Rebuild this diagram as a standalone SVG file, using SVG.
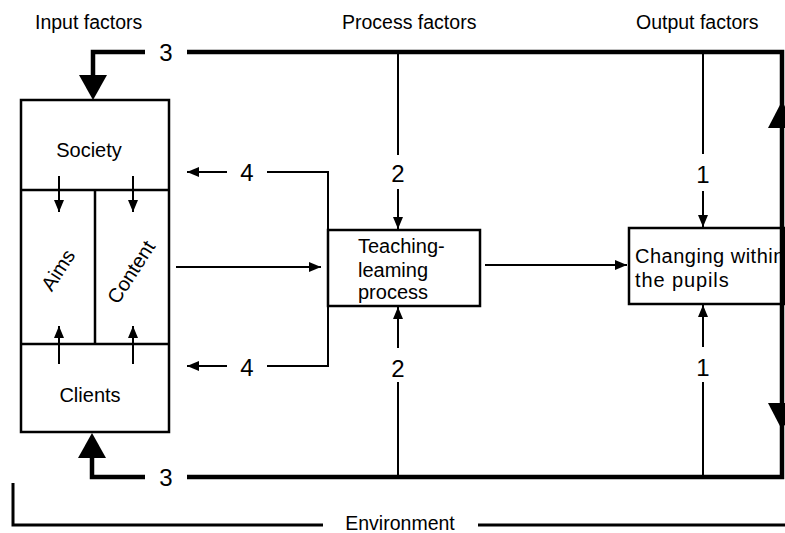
<svg xmlns="http://www.w3.org/2000/svg" width="785" height="533" viewBox="0 0 785 533">
<style>
text{font-family:"Liberation Sans",Arial,sans-serif;fill:#000}
.hd{font-size:19.5px}
.lb{font-size:20px}
.num{font-size:24px;text-anchor:middle}
.box{fill:#fff;stroke:#000;stroke-width:2.5}
.thin{fill:none;stroke:#000;stroke-width:2}
.thick{fill:none;stroke:#000;stroke-width:4.5}
.mid{fill:none;stroke:#000;stroke-width:3}
</style>
<defs>
<marker id="a" viewBox="0 0 12 10" refX="12" refY="5" markerWidth="12" markerHeight="10" markerUnits="userSpaceOnUse" orient="auto"><path d="M0,0L12,5L0,10z" fill="#000"/></marker>
</defs>
<rect width="785" height="533" fill="#fff"/>
<g id="headers">
<text class="hd" x="35" y="29">Input factors</text>
<text class="hd" x="342" y="29">Process factors</text>
<text class="hd" x="636" y="29">Output factors</text>
</g>
<g id="input-box">
<rect class="box" x="21" y="100" width="148" height="332"/>
<line class="box" x1="21" y1="190" x2="169" y2="190"/>
<line class="box" x1="21" y1="344" x2="169" y2="344"/>
<line class="box" x1="95" y1="190" x2="95" y2="344"/>
<text class="lb" x="89" y="157" text-anchor="middle">Society</text>
<text class="lb" x="90" y="402" text-anchor="middle">Clients</text>
<text class="lb" text-anchor="middle" transform="translate(58,270) rotate(-57)" dy="7">Aims</text>
<text class="lb" text-anchor="middle" transform="translate(131,272) rotate(-57)" dy="7">Content</text>
</g>
<g id="teaching">
<rect class="box" x="328" y="230" width="152" height="76"/>
<text class="lb" x="358" y="253" font-size="19">Teaching-</text>
<text class="lb" x="358" y="277" font-size="19">leaming</text>
<text class="lb" x="358" y="299" font-size="19">process</text>
</g>
<g id="changing">
<rect class="box" x="629" y="228" width="156" height="76"/>
<text class="lb" x="635" y="263" font-size="19" letter-spacing="0.5">Changing within</text>
<text class="lb" x="635" y="287" font-size="19" letter-spacing="0.9">the pupils</text>
</g>
<g id="environment">
<path class="mid" d="M13,483V525H323M478,525H785"/>
<text class="hd" x="400" y="530" text-anchor="middle" font-size="19">Environment</text>
</g>
<g id="connectors">
<path class="thick" d="M145,52H93V76"/>
<polygon points="79,75 107,75 93,100" fill="#000"/>
<path class="thick" d="M187,52H782V477H187"/>
<path class="thick" d="M145,477H92V458"/>
<polygon points="78,458 106,458 92,433" fill="#000"/>
<polygon points="768,128 796,128 782,101" fill="#000"/>
<polygon points="768,403 796,403 782,430" fill="#000"/>
<text class="num" x="166" y="61">3</text>
<text class="num" x="166" y="486">3</text>
<line class="thin" x1="59" y1="176" x2="59" y2="212" marker-end="url(#a)"/>
<line class="thin" x1="133" y1="176" x2="133" y2="212" marker-end="url(#a)"/>
<line class="thin" x1="59" y1="364" x2="59" y2="326" marker-end="url(#a)"/>
<line class="thin" x1="133" y1="364" x2="133" y2="326" marker-end="url(#a)"/>
<path class="thin" d="M267,172H328V366H267"/>
<line class="thin" x1="227" y1="172" x2="187" y2="172" marker-end="url(#a)"/>
<line class="thin" x1="227" y1="366" x2="187" y2="366" marker-end="url(#a)"/>
<text class="num" x="247" y="181">4</text>
<text class="num" x="247" y="376">4</text>
<line class="thin" x1="176" y1="267" x2="321" y2="267" marker-end="url(#a)"/>
<line class="thin" x1="485" y1="265" x2="627" y2="265" marker-end="url(#a)"/>
<line class="thin" x1="398" y1="52" x2="398" y2="155"/>
<line class="thin" x1="398" y1="189" x2="398" y2="229" marker-end="url(#a)"/>
<line class="thin" x1="398" y1="382" x2="398" y2="477"/>
<line class="thin" x1="398" y1="348" x2="398" y2="307" marker-end="url(#a)"/>
<text class="num" x="398" y="182">2</text>
<text class="num" x="398" y="377">2</text>
<line class="thin" x1="703" y1="52" x2="703" y2="154"/>
<line class="thin" x1="703" y1="191" x2="703" y2="227" marker-end="url(#a)"/>
<line class="thin" x1="703" y1="382" x2="703" y2="477"/>
<line class="thin" x1="703" y1="347" x2="703" y2="305" marker-end="url(#a)"/>
<text class="num" x="703" y="183">1</text>
<text class="num" x="703" y="376">1</text>
</g>
</svg>
